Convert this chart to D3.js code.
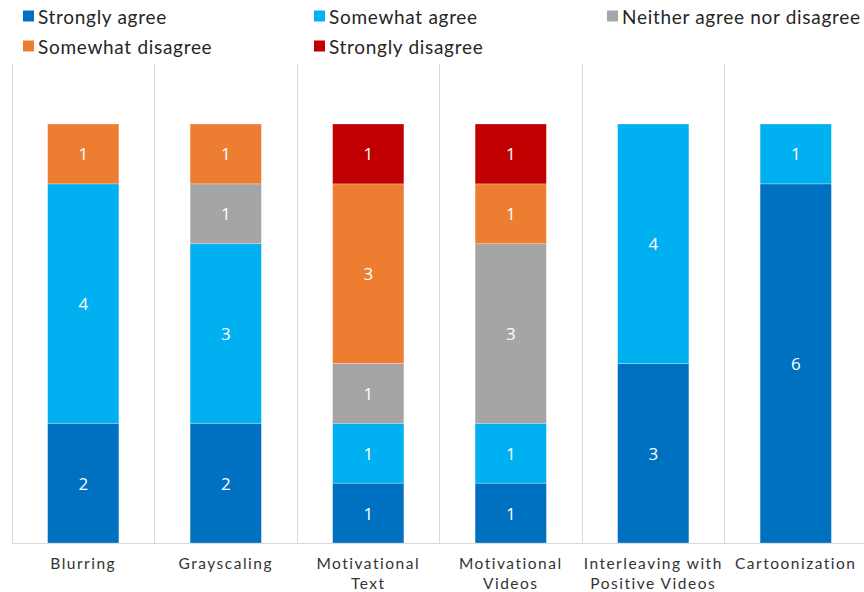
<!DOCTYPE html>
<html><head><meta charset="utf-8">
<script src="https://cdn.jsdelivr.net/npm/d3@7"></script>
<style>body{margin:0;background:#fff;} svg{display:block;}</style>
</head><body>
<svg id="c" width="864" height="592"></svg>
<script>
const categories = [["Blurring"],["Grayscaling"],["Motivational","Text"],["Motivational","Videos"],["Interleaving with","Positive Videos"],["Cartoonization"]];
const seriesNames = ["Strongly agree","Somewhat agree","Neither agree nor disagree","Somewhat disagree","Strongly disagree"];
const seriesColors = ["#0070C0","#00B0F0","#A5A5A5","#ED7D31","#C00000"];
const stronglyAgree = [2,2,1,1,3,6];
const somewhatAgree = [4,3,1,1,4,1];
const neither = [0,1,1,3,0,0];
const somewhatDisagree = [1,1,3,1,0,0];
const stronglyDisagree = [0,0,1,1,0,0];
const yMax = 7;

(function(){
const seriesValues = [stronglyAgree, somewhatAgree, neither, somewhatDisagree, stronglyDisagree];
const rows = categories.map((c,i)=>{const o={idx:i}; seriesNames.forEach((s,j)=>o[s]=seriesValues[j][i]); return o;});
const stack = d3.stack().keys(seriesNames)(rows);

const svg = d3.select("#c");
const mLeft = 12, mRight = 867, mTop = 124, mBottom = 543;
const x = d3.scaleBand().domain(d3.range(categories.length)).range([mLeft,mRight]).paddingInner(0).paddingOuter(0);
const y = d3.scaleLinear().domain([0,yMax]).range([mBottom,mTop]);
const barW = x.bandwidth()*0.5;

// vertical gridlines
const gx = d3.range(categories.length+1).map(i=>mLeft + i*x.step());
svg.append("g").selectAll("line").data(gx).join("line")
  .attr("x1",d=>d).attr("x2",d=>d).attr("y1",64).attr("y2",mBottom)
  .attr("stroke","#d9d9d9").attr("stroke-width",1).attr("shape-rendering","crispEdges");
svg.append("line").attr("x1",mLeft).attr("x2",864).attr("y1",mBottom+0.5).attr("y2",mBottom+0.5)
  .attr("stroke","#d9d9d9").attr("stroke-width",1);

// bars
const g = svg.append("g");
stack.forEach((s,j)=>{
  s.forEach((d,i)=>{
    if(d[1]-d[0]<=0) return;
    const cx = x(i)+x.bandwidth()/2;
    g.append("rect").attr("x",cx-barW/2).attr("width",barW)
      .attr("y",y(d[1])).attr("height",y(d[0])-y(d[1]))
      .attr("fill",seriesColors[j]).attr("stroke","#ffffff").attr("stroke-opacity",0.35).attr("stroke-width",0.75);
    g.append("text").attr("x",cx).attr("y",(y(d[0])+y(d[1]))/2)
      .attr("text-anchor","middle").attr("dominant-baseline","central")
      .attr("font-family","'Open Sans', sans-serif").attr("font-size",17).attr("fill","#fff")
      .text(d[1]-d[0]);
  });
});

// x labels
const xl = svg.append("g");
categories.forEach((c,i)=>{
  const t = xl.append("text").attr("x",x(i)+x.bandwidth()/2).attr("y",569)
    .attr("text-anchor","middle").attr("font-family","Lato, sans-serif").attr("font-size",15.5)
    .attr("letter-spacing","1.5px").attr("fill","#333333");
  c.forEach((line,k)=>t.append("tspan").attr("x",x(i)+x.bandwidth()/2).attr("dy",k?20:0).text(line));
});

// legend
const legendPos = [[23,16],[314,16],[607,16],[23,46],[314,46]];
const lg = svg.append("g");
seriesNames.forEach((s,j)=>{
  const [lx,ly] = legendPos[j];
  lg.append("rect").attr("x",lx).attr("y",ly-5.5).attr("width",11).attr("height",11).attr("fill",seriesColors[j]);
  lg.append("text").attr("x",lx+15).attr("y",ly).attr("dominant-baseline","central")
    .attr("font-family","Lato, sans-serif").attr("font-size",19).attr("letter-spacing","0.7px").attr("fill","#262626").text(s);
});
})();
</script>
</body></html>
